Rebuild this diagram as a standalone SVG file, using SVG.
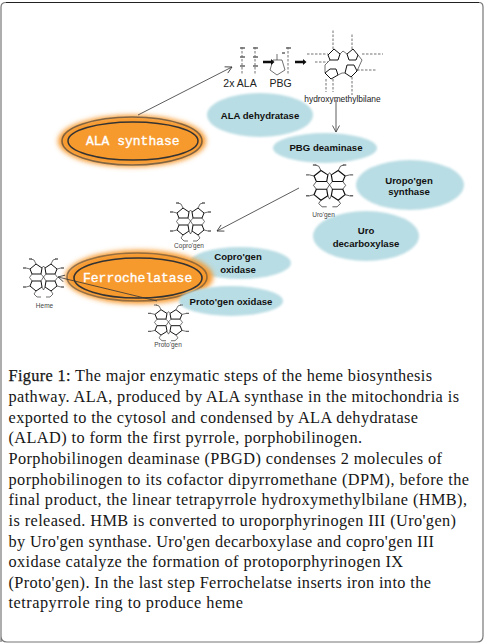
<svg xmlns="http://www.w3.org/2000/svg" width="484" height="644" viewBox="0 0 484 644">
<style>
.cap{font-family:"Liberation Serif","Noto Serif",serif;font-size:16.300px;fill:#161616}
.blue{fill:#b9dde4;filter:url(#soft)}
.enz{font-family:"Liberation Sans",Arial,sans-serif;font-weight:700;font-size:9.600px;fill:#111;text-anchor:middle}
.sm{font-family:"Liberation Sans",Arial,sans-serif;fill:#444;text-anchor:middle}
.glow{fill:#f79a2e;filter:url(#glow)}
.ring{fill:none;stroke:#333}
.nm{font-family:"Liberation Mono","Courier New",monospace;font-size:13px;fill:#fff;stroke:#fff;stroke-width:.35}
.con{fill:none;stroke:#333;stroke-width:.8}
.bond{fill:none;stroke:#111;stroke-width:1}
.bond2{fill:none;stroke:#333;stroke-width:.7}
.tag{fill:none;stroke:#666;stroke-width:1.300}
</style>
<defs>
<filter id="soft" x="-10%" y="-15%" width="120%" height="130%"><feGaussianBlur stdDeviation="1.200"/></filter>
<filter id="glow" x="-15%" y="-30%" width="130%" height="160%"><feGaussianBlur stdDeviation="2.400"/></filter>
<filter id="mol" x="-10%" y="-10%" width="120%" height="120%"><feGaussianBlur stdDeviation=".3"/></filter>
<marker id="arr" markerWidth="9" markerHeight="8" refX="7.500" refY="4" orient="auto" markerUnits="userSpaceOnUse"><path d="M1 .5L7.500 4L1 7.500" fill="none" stroke="#333" stroke-width=".8"/></marker>
<g id="por" filter="url(#mol)">
<path class="bond" d="M7 10L13 5L19 9L18 15L9 15ZM22 9L28 5L34 10L32 15L23 15ZM9 22L18 22L19 28L13 32L7 27ZM23 22L32 22L34 27L28 32L22 28Z"/>
<path class="bond2" d="M19 9L20.500 7L22 9M19 28L20.500 31L22 28M9 15L6.500 18.500L9 22M32 15L34.500 18.500L32 22M18 15L20.500 18L18 22M23 15L20.500 18L23 22"/>
<path class="bond2" d="M13 5L11 1L8 0M28 5L30 1L33 0M7 10L3 9M34 10L38 9M7 27L3 28M34 27L38 28M13 32L11 35L14 38H18M28 32L30 35L27 38H23"/>
<path class="tag" d="M0 9H3M38 9H41M0 28H3M38 28H41M6 0H9M32 0H35"/>
</g>
</defs>
<rect width="484" height="644" fill="#fff"/>
<path d="M1 642V7Q1 2.500 6 2.500H479Q483 2.500 483 7V636Q483 642 477 642H7Q1 642 1 636" fill="none" stroke="#777" stroke-width="1.200"/>
<path d="M6 2.500H479" fill="none" stroke="#222" stroke-width="1"/>

<g id="ala-dehydratase"><ellipse class="blue" cx="260" cy="115" rx="53" ry="22"/><text class="enz" x="260" y="119">ALA dehydratase</text></g>
<g id="pbg-deaminase"><ellipse class="blue" cx="325" cy="148" rx="52" ry="15"/><text class="enz" x="326" y="151">PBG deaminase</text></g>
<g id="uropogen-synthase"><ellipse class="blue" cx="410" cy="185" rx="54" ry="25"/><text class="enz" x="409" y="184">Uropo'gen</text><text class="enz" x="409" y="195">synthase</text></g>
<g id="uro-decarboxylase"><ellipse class="blue" cx="366" cy="236" rx="53" ry="25"/><text class="enz" x="366" y="234">Uro</text><text class="enz" x="366" y="247">decarboxylase</text></g>
<g id="coprogen-oxidase"><ellipse class="blue" cx="240" cy="263" rx="51" ry="16"/><text class="enz" x="238" y="260">Copro'gen</text><text class="enz" x="238" y="273">oxidase</text></g>

<g id="ala-synthase">
<ellipse class="glow" cx="132" cy="141" rx="74" ry="26"/>
<ellipse class="ring" cx="132" cy="141" rx="70" ry="24" stroke-width="1.600" opacity=".6"/>
<ellipse class="ring" cx="133" cy="141" rx="65" ry="19" stroke-width="1.500"/>
<text class="nm" x="86" y="145">ALA synthase</text>
</g>
<g id="ferrochelatase">
<ellipse class="glow" cx="139" cy="277" rx="74" ry="27"/>
<ellipse class="ring" cx="137" cy="277" rx="70" ry="24" stroke-width="1.600" opacity=".5"/>
<ellipse class="ring" cx="138" cy="278" rx="64" ry="20" stroke-width="1.600"/>
<text class="nm" x="83" y="282">Ferrochelatase</text>
</g>
<g id="protogen-oxidase"><ellipse class="blue" cx="231" cy="301" rx="52" ry="15"/><text class="enz" x="231" y="305">Proto'gen oxidase</text></g>

<g id="connectors">
<path class="con" marker-end="url(#arr)" d="M138 115L232 67"/>
<path class="con" marker-end="url(#arr)" d="M336 100V132"/>
<path class="con" marker-end="url(#arr)" d="M299 188L217 231"/>
<path class="con" marker-end="url(#arr)" d="M157 301L58 277"/>
</g>

<g id="ala-pbg">
<g filter="url(#mol)">
<path class="bond2" stroke-dasharray="2.500 1.500" d="M242 47V75M255 47V75M288 47V75"/>
<path class="tag" d="M240 48H245M253 48H258M286 48H291M240 57H245M253 57H258M240 66H245M253 66H258M282 53H285"/>
<path class="bond2" d="M270 70L273 60H282L285 70L277 75Z M277 60V54"/>
<path d="M263 62H271M295 62H303" stroke="#111" stroke-width="2.600" fill="none"/>
<path d="M271 59L274.500 62L271 65ZM303 59L306.500 62L303 65Z" fill="#111"/>
</g>
<text class="sm" x="240" y="87" font-size="10.500" style="fill:#222">2x ALA</text>
<text class="sm" x="280.500" y="87" font-size="10.500" style="fill:#222">PBG</text>
</g>

<g id="hydroxymethylbilane">
<g filter="url(#mol)">
<path class="bond" d="M328 55L334 49L340 54L338 60H330ZM347 54L353 49L358 55L356 60H349ZM325 73L330 69H336L338 75L331 79ZM345 73L347 65H354L357 71L351 77Z"/>
<path class="bond2" d="M340 54L343 51L347 54M338 75L342 73L345 73M358 55L362 60L357 71M330 60L325 65L325 73"/>
<path class="bond2" stroke-dasharray="2.500 1.500" d="M333 49V29M352 49V34M307 54H328M362 54H383M357 70H376M352 77V95M326 79V92M333 79V92M315 62H328"/>
</g>
<text class="sm" x="342.500" y="102" font-size="8.400" style="fill:#222">hydroxymethylbilane</text>
</g>

<g id="urogen"><use href="#por" transform="translate(306 165) scale(1.150 1.100)"/><text class="sm" x="323.500" y="217" font-size="6.500">Uro'gen</text></g>
<g id="coprogen"><use href="#por" transform="translate(170 203)"/><text class="sm" x="189" y="248" font-size="6.500">Copro'gen</text></g>
<g id="heme"><use href="#por" transform="translate(23 259)"/><text class="sm" x="44.500" y="308" font-size="6.500">Heme</text></g>
<g id="protogen"><use href="#por" transform="translate(148 305) scale(1 .94)"/><text class="sm" x="168" y="347" font-size="6.500">Proto'gen</text></g>

<g id="caption">
<text class="cap" x="8.500" y="381" textLength="423.500"><tspan style="stroke:#161616;stroke-width:.25">Figure 1:</tspan> The major enzymatic steps of the heme biosynthesis</text>
<text class="cap" x="8.500" y="402" textLength="450.500">pathway. ALA, produced by ALA synthase in the mitochondria is</text>
<text class="cap" x="8.500" y="423" textLength="409.500">exported to the cytosol and condensed by ALA dehydratase</text>
<text class="cap" x="8.500" y="443" textLength="353.500">(ALAD) to form the first pyrrole, porphobilinogen.</text>
<text class="cap" x="8.500" y="464" textLength="433.500">Porphobilinogen deaminase (PBGD) condenses 2 molecules of</text>
<text class="cap" x="8.500" y="485" textLength="460.500">porphobilinogen to its cofactor dipyrromethane (DPM), before the</text>
<text class="cap" x="8.500" y="505" textLength="458.500">final product, the linear tetrapyrrole hydroxymethylbilane (HMB),</text>
<text class="cap" x="8.500" y="526" textLength="447.500">is released. HMB is converted to uroporphyrinogen III (Uro'gen)</text>
<text class="cap" x="8.500" y="547" textLength="425.500">by Uro'gen synthase. Uro'gen decarboxylase and copro'gen III</text>
<text class="cap" x="8.500" y="567" textLength="394.500">oxidase catalyze the formation of protoporphyrinogen IX</text>
<text class="cap" x="8.500" y="588" textLength="422.500">(Proto'gen). In the last step Ferrochelatse inserts iron into the</text>
<text class="cap" x="8.500" y="608" textLength="234.500">tetrapyrrole ring to produce heme</text>
</g>
</svg>
